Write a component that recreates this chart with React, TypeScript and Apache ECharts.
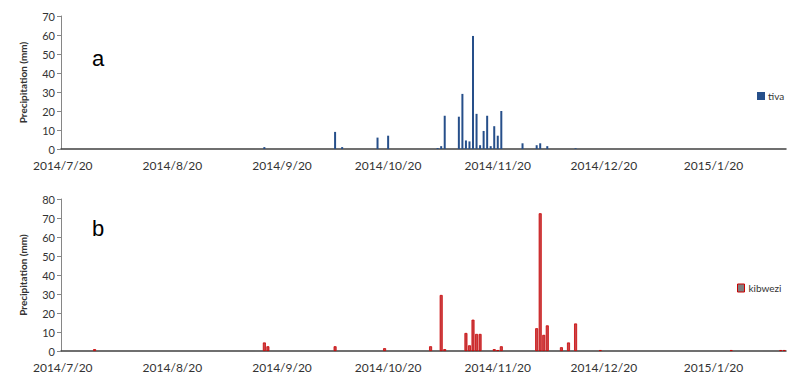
import React, { useEffect, useRef } from "react";
import * as echarts from "echarts";

// Date range of the axis (one category per day)
const startDate = "2014-07-20";
const dayCount = 205;

// tick label dates (shown on the axis)
const tickDays = [20];

// Series a: tiva
const tivaDates = [
  "2014/9/15", "2014/10/5", "2014/10/7", "2014/10/17", "2014/10/20",
  "2014/11/3", "2014/11/4", "2014/11/5", "2014/11/9", "2014/11/10",
  "2014/11/11", "2014/11/12", "2014/11/13", "2014/11/14", "2014/11/15",
  "2014/11/16", "2014/11/17", "2014/11/18", "2014/11/19", "2014/11/20",
  "2014/11/21", "2014/11/27", "2014/12/1", "2014/12/2", "2014/12/4",
  "2014/12/12",
];
const tivaValues = [
  1, 9, 1, 6, 7,
  0.5, 1.5, 17.5, 17, 29,
  4.5, 4, 59.5, 18.5, 2,
  9.5, 17.5, 1.5, 12, 7,
  20, 3, 2, 3, 1.5,
  0.4,
];

// Series b: kibwezi
const kibweziDates = [
  "2014/7/29", "2014/9/15", "2014/9/16", "2014/10/5", "2014/10/19",
  "2014/11/1", "2014/11/4", "2014/11/5", "2014/11/11", "2014/11/12",
  "2014/11/13", "2014/11/14", "2014/11/15", "2014/11/19", "2014/11/20",
  "2014/11/21", "2014/12/1", "2014/12/2", "2014/12/3", "2014/12/4",
  "2014/12/8", "2014/12/10", "2014/12/12", "2014/12/19", "2015/1/25",
  "2015/2/8", "2015/2/9",
];
const kibweziValues = [
  1, 4.5, 2.5, 2.5, 1.5,
  2.5, 29.5, 1, 9.5, 3,
  16.5, 9, 9, 1, 0.5,
  2.5, 12, 72.5, 8.5, 13.5,
  2, 4.5, 14.5, 0.5, 0.5,
  0.5, 0.5,
];

function buildCategories(): string[] {
  const [y, m, d] = startDate.split("-").map(Number);
  const out: string[] = [];
  for (let i = 0; i < dayCount; i++) {
    const dt = new Date(Date.UTC(y, m - 1, d + i));
    out.push(`${dt.getUTCFullYear()}/${dt.getUTCMonth() + 1}/${dt.getUTCDate()}`);
  }
  return out;
}

function buildSeries(cats: string[], dates: string[], values: number[]) {
  const map: Record<string, number> = {};
  dates.forEach((d, i) => (map[d] = values[i]));
  return cats.map((c) => (c in map ? map[c] : null));
}

const FONT = "Lato, 'Open Sans', sans-serif";

export default function App() {
  const ref = useRef<HTMLDivElement>(null);
  useEffect(() => {
    if (!ref.current) return;
    const chart = echarts.init(ref.current, undefined, { renderer: "svg" });
    const cats = buildCategories();
    const isTick = (_i: number, v: string) => tickDays.includes(Number(v.split("/")[2]));
    const xAxisBase = (gridIndex: number) => ({
      type: "category" as const,
      gridIndex,
      data: cats,
      boundaryGap: true,
      axisLine: { lineStyle: { color: "#404040", width: 1.5 } },
      axisTick: { interval: isTick, length: 4, lineStyle: { color: "#404040" } },
      axisLabel: {
        interval: isTick,
        color: "#333",
        fontSize: 12,
        fontFamily: FONT,
        margin: 10,
        hideOverlap: false,
      },
      splitLine: { show: false },
    });
    const yAxisBase = (gridIndex: number, max: number) => ({
      type: "value" as const,
      gridIndex,
      min: 0,
      max,
      interval: 10,
      name: "Precipitation (mm)",
      nameLocation: "middle" as const,
      nameGap: 33,
      nameTextStyle: { fontSize: 10, fontWeight: "bold" as const, color: "#333", fontFamily: FONT },
      axisLine: { show: true, lineStyle: { color: "#868686" } },
      axisTick: { show: true, length: 4, lineStyle: { color: "#868686" } },
      axisLabel: { color: "#333", fontSize: 11, fontFamily: FONT, margin: 6 },
      splitLine: { show: false },
    });
    chart.setOption({
      animation: false,
      grid: [
        { left: 61, right: 1, top: 16, height: 133 },
        { left: 61, right: 1, top: 199, height: 152 },
      ],
      xAxis: [xAxisBase(0), xAxisBase(1)],
      yAxis: [yAxisBase(0, 70), yAxisBase(1, 80)],
      legend: [
        {
          data: [{ name: "tiva", icon: "rect" }],
          left: 752,
          top: 86,
          itemWidth: 8,
          itemHeight: 8,
          itemGap: 3,
          textStyle: { fontSize: 10, color: "#333", fontFamily: FONT, padding: [0, 0, 0, -2] },
        },
        {
          data: [
            {
              name: "kibwezi",
              icon: "rect",
              itemStyle: { color: "#7f7f7f", borderColor: "#cc0000", borderWidth: 1 },
            },
          ],
          left: 732,
          top: 278,
          itemWidth: 7,
          itemHeight: 8,
          textStyle: { fontSize: 10, color: "#333", fontFamily: FONT, padding: [0, 0, 0, -1] },
        },
      ],
      graphic: [
        { type: "text", left: 92, top: 47, style: { text: "a", fontSize: 22, fontFamily: "'Liberation Sans', Arial", fill: "#000" } },
        { type: "text", left: 92, top: 217, style: { text: "b", fontSize: 22, fontFamily: "'Liberation Sans', Arial", fill: "#000" } },
      ],
      series: [
        {
          name: "tiva",
          type: "bar",
          xAxisIndex: 0,
          yAxisIndex: 0,
          barWidth: 2,
          itemStyle: { color: "#264f8a" },
          data: buildSeries(cats, tivaDates, tivaValues),
        },
        {
          name: "kibwezi",
          type: "bar",
          xAxisIndex: 1,
          yAxisIndex: 1,
          barWidth: 3,
          itemStyle: { color: "#c8484c", borderColor: "#cc0000", borderWidth: 0.8 },
          data: buildSeries(cats, kibweziDates, kibweziValues),
        },
      ],
    });
    return () => chart.dispose();
  }, []);
  return (
    <div
      ref={ref}
      style={{ position: "fixed", left: 0, top: 0, width: 787, height: 375, background: "#fff" }}
    />
  );
}
